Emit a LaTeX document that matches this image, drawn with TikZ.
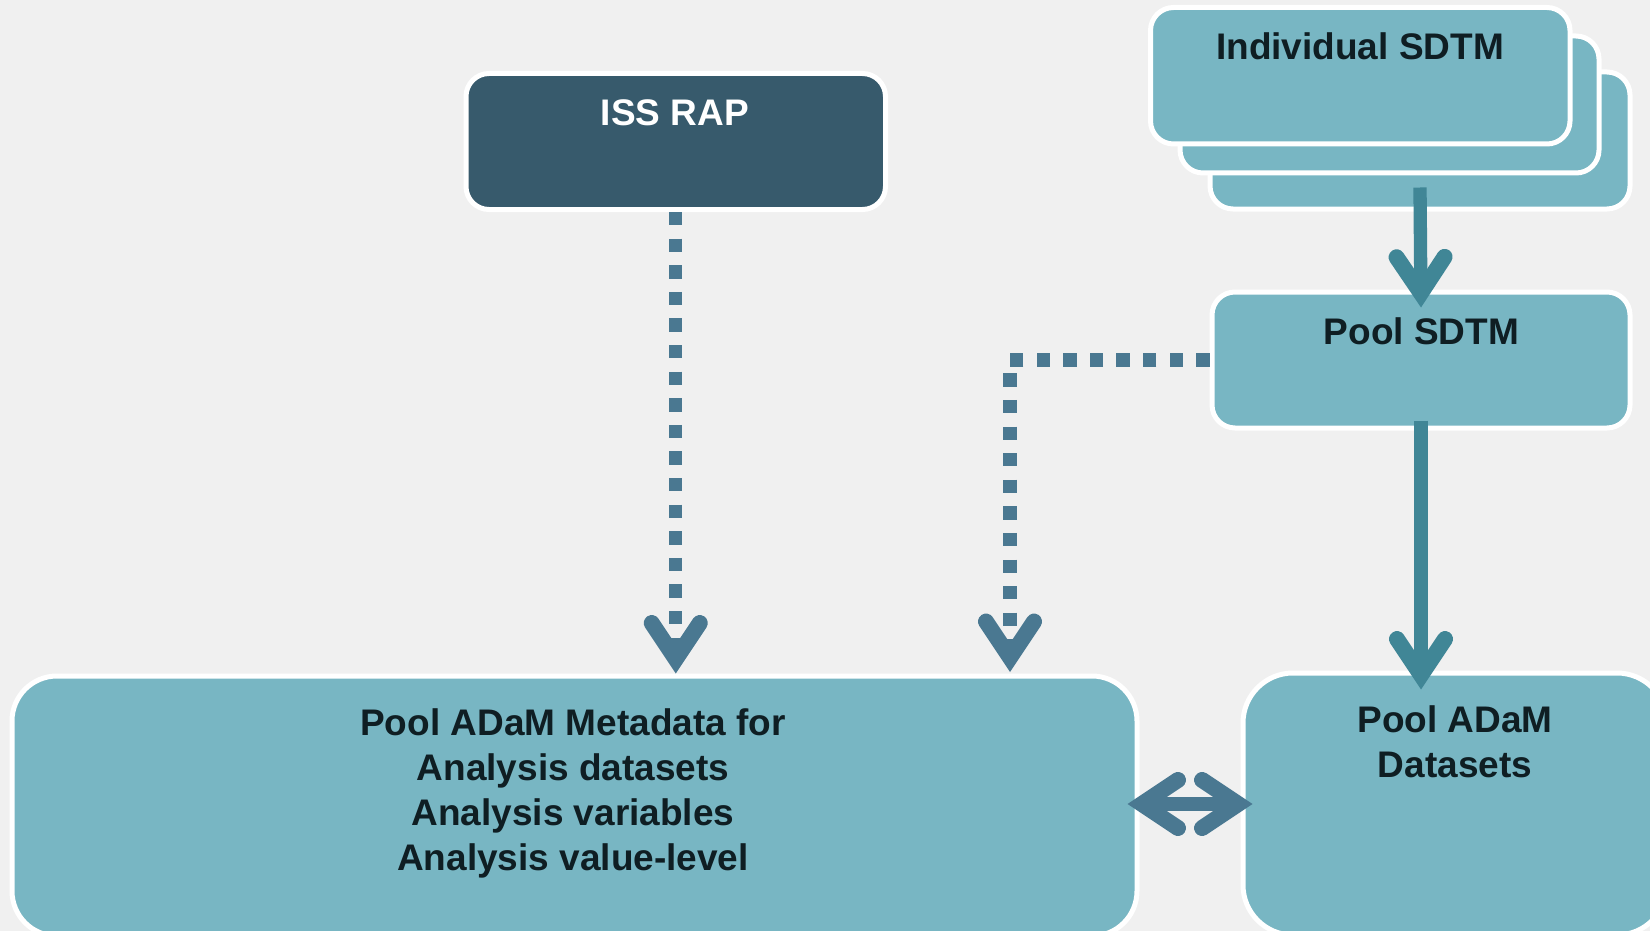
\documentclass[tikz,border=0pt]{standalone}
\usepackage{fontspec}
\setmainfont{Liberation Sans}
\usetikzlibrary{arrows.meta,calc}

\definecolor{bg}{HTML}{F0F0F0}
\definecolor{boxfill}{HTML}{78B6C3}
\definecolor{rapfill}{HTML}{375A6C}
\definecolor{solidarrow}{HTML}{408696}
\definecolor{dotarrow}{HTML}{4A7891}
\definecolor{ink}{HTML}{0F1E23}

\tikzset{
  vtip/.tip={Straight Barb[length=18pt, width=24pt, line width=8pt 0, line cap=round, line join=miter]},
  card/.style={draw=white, line width=2.5pt, fill=boxfill, rounded corners=11.5pt, inner sep=0pt},
  bigcard/.style={card, rounded corners=23pt},
  txt/.style={font=\fontsize{18.5}{22.5}\selectfont\bfseries, text=ink, inner sep=0pt},
  solid link/.style={draw=solidarrow, line width=6.65pt, -{vtip}},
  dot link/.style={draw=dotarrow, line width=6.65pt, dash pattern=on 6.65pt off 6.65pt, -{vtip}},
  twoway/.style={draw=dotarrow, line width=6.65pt, {vtip}-{vtip}},
}

\begin{document}
\begin{tikzpicture}[x=0.5pt, y=-0.5pt]
  \clip (0,0) rectangle (1650,931);
  \fill[bg] (0,0) rectangle (1650,931);

  % stacked study-level SDTM cards, back to front
  \node[card, minimum width=210pt, minimum height=68.5pt] (ind3) at (1420,140.5) {};
  \node[card, minimum width=209.5pt, minimum height=68.5pt] (ind2) at (1389.5,104.5) {};
  \node[card, minimum width=209.75pt, minimum height=68.25pt] (ind1) at (1360.25,75.75) {};
  \node[txt, anchor=base] (indt) at (1360,60) {Individual SDTM};

  % reporting and analysis plan
  \node[card, fill=rapfill, minimum width=209.75pt, minimum height=68pt] (iss) at (675.75,141.5) {};
  \node[txt, anchor=base, text=white] (isst) at (675,126) {ISS RAP};

  % pooled SDTM
  \node[card, minimum width=209pt, minimum height=68pt] (pool) at (1421,360) {};
  \node[txt, anchor=base] (poolt) at (1421.5,344) {Pool SDTM};

  % pooled ADaM metadata
  \node[bigcard, rounded corners=22.5pt, minimum width=562.5pt, minimum height=130pt] (meta) at (574.5,806) {};
  \node[txt, anchor=north, align=center] (metat) at (573,708.2)
    {Pool ADaM Metadata for\\Analysis datasets\\Analysis variables\\Analysis value-level};

  % pooled ADaM datasets
  \node[bigcard, rounded corners=25pt, minimum width=212pt, minimum height=131pt] (ds) at (1455,804) {};
  \node[txt, anchor=north, align=center] (dst) at (1455,705.2) {Pool ADaM\\Datasets};

  % connectors
  \coordinate (drop) at (1010,672);
  \draw[solid link] ([yshift=12pt]ind3.south) -- ([yshift=-9pt]pool.north);
  \draw[solid link] ([yshift=5pt]pool.south) -- ($(pool.south |- ds.north)+(0,-9.5pt)$);
  \draw[dot link] (iss.south) -- (iss.south |- meta.north);
  \draw[dot link] (pool.west) -| (drop);
  \draw[twoway] ($(meta.east |- ds.west)+(-6pt,0)$) -- ($(ds.west)+(6pt,0)$);
\end{tikzpicture}
\end{document}
